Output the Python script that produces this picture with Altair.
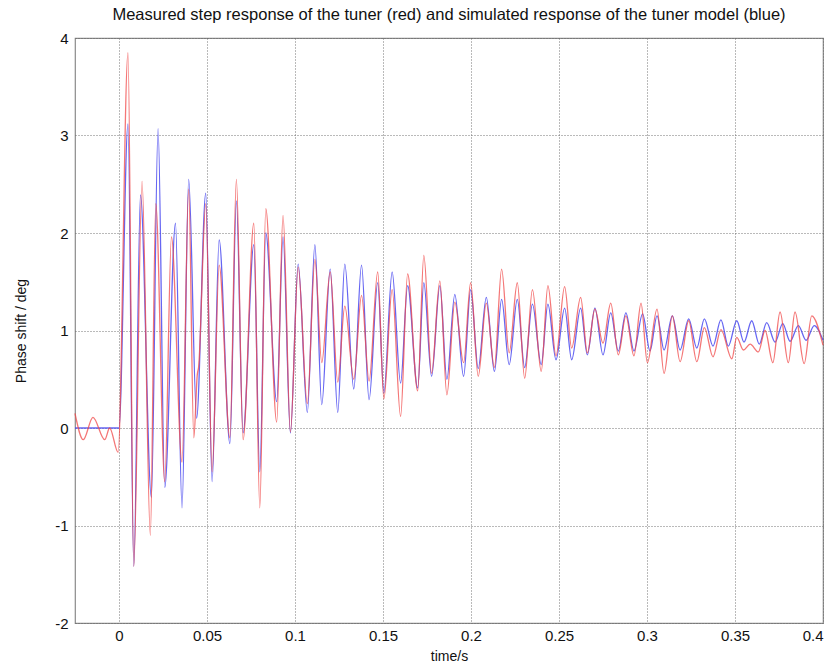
import altair as alt
import pandas as pd

red_t = [-0.025, -0.0203, -0.0148, -0.0081, -0.0053, -0.0005, 0.0051, 0.0084, 0.0131, 0.0178,
         0.0209, 0.026, 0.0298, 0.0358, 0.0396, 0.0425, 0.0445, 0.0452, 0.0493, 0.0529,
         0.0569, 0.063, 0.0667, 0.0705, 0.0766, 0.080, 0.0834, 0.0896, 0.0932, 0.0974,
         0.1018, 0.107, 0.1113, 0.1152, 0.120, 0.1243, 0.1283, 0.1334, 0.1378, 0.1421,
         0.147, 0.1505, 0.1552, 0.160, 0.164, 0.1697, 0.1732, 0.1776, 0.1823, 0.1863,
         0.1908, 0.1958, 0.1998, 0.2041, 0.2087, 0.2133, 0.2174, 0.2217, 0.2263, 0.2305,
         0.2349, 0.2399, 0.2437, 0.2483, 0.2532, 0.2572, 0.2623, 0.2661, 0.2704, 0.275,
         0.2794, 0.2837, 0.288, 0.2926, 0.2966, 0.3002, 0.3057, 0.3097, 0.3144, 0.3188,
         0.3237, 0.3283, 0.3326, 0.3375, 0.342, 0.3482, 0.351, 0.3548, 0.3586, 0.3633,
         0.3671, 0.3715, 0.3756, 0.3803, 0.3841, 0.3893, 0.3936, 0.4]
red_v = [0.15, -0.12, 0.11, -0.12, 0.0, -0.25, 3.85, -1.42, 2.53, -1.1,
         2.3, -0.55, 1.96, -0.35, 2.45, -0.1, 0.55, 0.62, 2.3, -0.45,
         1.67, -0.1, 2.55, -0.12, 2.1, -0.82, 2.25, 0.06, 2.18, -0.04,
         1.65, 0.25, 1.73, 0.67, 1.6, 0.47, 1.25, 0.5, 1.36, 0.48,
         1.6, 0.3, 1.42, 0.12, 1.58, 0.38, 1.77, 0.56, 1.51, 0.34,
         1.29, 0.67, 1.49, 0.53, 1.28, 0.62, 1.63, 0.77, 1.49, 0.51,
         1.42, 0.58, 1.46, 0.74, 1.45, 0.82, 1.34, 0.77, 1.22, 0.87,
         1.28, 0.75, 1.15, 0.74, 1.28, 0.67, 1.22, 0.56, 1.15, 0.68,
         1.1, 0.68, 1.03, 0.73, 1.01, 0.71, 0.93, 0.8, 0.86, 0.78,
         1.0, 0.67, 1.19, 0.67, 1.19, 0.66, 1.15, 0.85]

# Simulated response of the tuner model (blue)
blue_t = [-0.025, 0.0, 0.0051, 0.0084, 0.0122, 0.0184, 0.0222, 0.026, 0.0321, 0.0358,
          0.0396, 0.0441, 0.0493, 0.0529, 0.0569, 0.063, 0.0667, 0.0705, 0.0766, 0.080,
          0.0834, 0.0896, 0.0932, 0.0974, 0.1018, 0.107, 0.1113, 0.1152, 0.120, 0.1243,
          0.1283, 0.1334, 0.1378, 0.1421, 0.147, 0.1505, 0.1552, 0.160, 0.164, 0.1697,
          0.1732, 0.1776, 0.1823, 0.1863, 0.1908, 0.1958, 0.1998, 0.2041, 0.2087, 0.2133,
          0.2174, 0.2217, 0.2263, 0.2305, 0.2349, 0.2399, 0.2437, 0.2483, 0.2532, 0.2572,
          0.2623, 0.2661, 0.2704, 0.275, 0.2794, 0.2837, 0.288, 0.2926, 0.2975, 0.3017,
          0.3057, 0.3097, 0.3144, 0.3188, 0.3237, 0.3283, 0.3326, 0.3375, 0.342, 0.3462,
          0.351, 0.3551, 0.3595, 0.3638, 0.368, 0.3728, 0.3771, 0.3813, 0.386, 0.3904,
          0.395, 0.4]
blue_v = [0.0, 0.0, 3.12, -1.42, 2.39, -0.71, 3.07, -0.61, 2.1, -0.82,
          2.55, 0.1, 2.41, -0.55, 1.93, -0.16, 2.33, -0.05, 1.88, -0.45,
          2.0, 0.27, 1.96, -0.05, 1.68, 0.16, 1.88, 0.24, 1.63, 0.16,
          1.68, 0.4, 1.67, 0.29, 1.49, 0.36, 1.6, 0.46, 1.46, 0.41,
          1.49, 0.53, 1.46, 0.5, 1.37, 0.53, 1.42, 0.61, 1.34, 0.58,
          1.32, 0.65, 1.32, 0.62, 1.27, 0.65, 1.27, 0.7, 1.23, 0.7,
          1.23, 0.75, 1.23, 0.75, 1.18, 0.79, 1.18, 0.79, 1.17, 0.79,
          1.15, 0.8, 1.15, 0.8, 1.12, 0.82, 1.12, 0.84, 1.11, 0.84,
          1.1, 0.88, 1.1, 0.86, 1.08, 0.88, 1.07, 0.89, 1.05, 0.9,
          1.05, 0.9]

x_ticks = [0, 0.05, 0.1, 0.15, 0.2, 0.25, 0.3, 0.35, 0.4]
y_ticks = [-2, -1, 0, 1, 2, 3, 4]

red_df = pd.DataFrame({"t": red_t, "v": red_v})
blue_df = pd.DataFrame({"t": blue_t, "v": blue_v})

FONT = "Liberation Sans"
LABEL = "datum.value < 0 ? '-' + format(-datum.value, '~g') : format(datum.value, '~g')"

x_enc = alt.X("t:Q", scale=alt.Scale(domain=[-0.025, 0.4], nice=False, zero=False),
              axis=alt.Axis(values=x_ticks, labelExpr=LABEL, title="time/s", grid=True,
                            domain=False, ticks=False, labelPadding=5, titlePadding=6))
y_enc = alt.Y("v:Q", scale=alt.Scale(domain=[-2, 4], nice=False),
              axis=alt.Axis(values=y_ticks, labelExpr=LABEL, title="Phase shift / deg", grid=True,
                            domain=False, ticks=False, labelPadding=7, titlePadding=26))

blue = alt.Chart(blue_df).mark_line(color="#4b4bf0", strokeWidth=1.3, opacity=0.85,
                                    interpolate="monotone").encode(x=x_enc, y=y_enc)
red = alt.Chart(red_df).mark_line(color="#f04848", strokeWidth=1.3, opacity=0.75,
                                  interpolate="monotone").encode(x=x_enc, y=y_enc)

chart = alt.layer(blue, red).properties(
    width=748, height=585,
    background="white",
    title=alt.TitleParams(
        "Measured step response of the tuner (red) and simulated response of the tuner model (blue)",
        font=FONT, fontSize=16.5, fontWeight="normal", color="#111", offset=8),
    autosize=alt.AutoSizeParams(type="none"),
    padding={"left": 75, "top": 38, "right": 16, "bottom": 45},
).configure_view(stroke="#8a8a8a", strokeWidth=1.2).configure_axis(
    gridColor="#666", gridDash=[1, 2], gridOpacity=0.9, gridWidth=1,
    labelFont=FONT, labelFontSize=15, labelColor="#111",
    titleFont=FONT, titleFontSize=14, titleFontWeight="normal", titleColor="#111",
)

chart.save("out.html", embed_options={"renderer": "svg", "actions": False})
